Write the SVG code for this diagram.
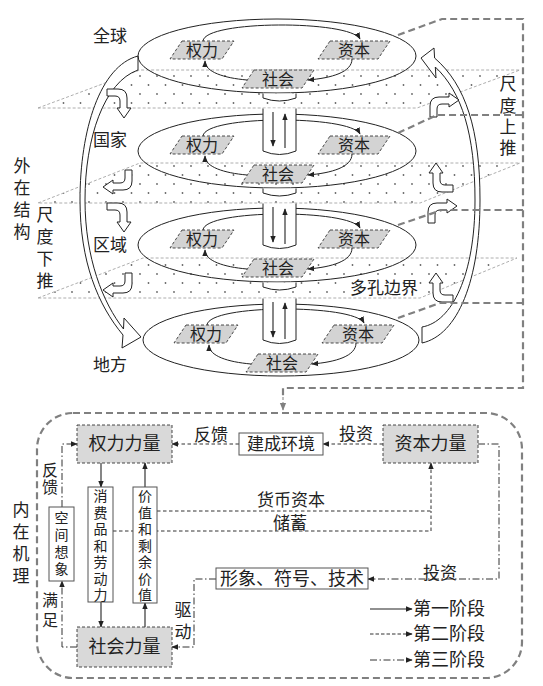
<svg xmlns="http://www.w3.org/2000/svg" width="543" height="686" viewBox="0 0 543 686">
<defs>
<style>
text{font-family:"Noto Sans CJK SC","Noto Sans",sans-serif;fill:#222}
.lbl{font-size:17px}
.lc{font-size:17px;text-anchor:middle}
.pl{font-size:16px;text-anchor:middle}
.nd{font-size:18px;text-anchor:middle}
.ns{font-size:18px}
.vv{writing-mode:vertical-rl;text-anchor:start}
.plane{fill:url(#dots);stroke:#999;stroke-width:0.8;stroke-dasharray:3,2}
.ell{fill:none;stroke:#222;stroke-width:1}
.para{fill:#d3d3d3;stroke:#222;stroke-width:0.8;stroke-dasharray:3,2}
.arc{fill:none;stroke:#222;stroke-width:1;marker-end:url(#ah)}
.tube{fill:#fff;stroke:#222;stroke-width:1}
.hollow{fill:#fff;stroke:#222;stroke-width:1}
.frame{fill:none;stroke:#808080;stroke-width:2.2;stroke-dasharray:7,4}
.gbox{fill:#d9d9d9;stroke:#333;stroke-width:0.9;stroke-dasharray:3,2}
.wbox{fill:#fff;stroke:#555;stroke-width:1}
.s1{fill:none;stroke:#222;stroke-width:1.1;marker-end:url(#ah)}
.s2{fill:none;stroke:#333;stroke-width:1;stroke-dasharray:3.5,2.5;marker-end:url(#ah)}
.s2n{fill:none;stroke:#333;stroke-width:1;stroke-dasharray:3.5,2.5}
.s3{fill:none;stroke:#333;stroke-width:1;stroke-dasharray:7,2.5,1.5,2.5;marker-end:url(#ah)}
</style>
<pattern id="dots" width="17" height="18" patternUnits="userSpaceOnUse">
<circle cx="4" cy="4" r="0.9" fill="#666"/>
<circle cx="12.5" cy="13" r="0.9" fill="#666"/>
</pattern>
<marker id="ah" viewBox="0 0 10 10" refX="9" refY="5" markerWidth="7" markerHeight="7" markerUnits="userSpaceOnUse" orient="auto"><path d="M0,1 L10,5 L0,9 Z" fill="#222"/></marker>
<marker id="ahg" viewBox="0 0 10 10" refX="9" refY="5" markerWidth="8" markerHeight="8" markerUnits="userSpaceOnUse" orient="auto"><path d="M0,1 L10,5 L0,9 Z" fill="#808080"/></marker>
<path id="bent" d="M0,0 H11 Q20,0 20,9 V19 H24 L17,29 L10,19 H13 V12 Q13,7 8,7 H0 Z"/>
</defs>

<rect width="543" height="686" fill="#fff"/>

<!-- planes -->
<g id="planes">
<path class="plane" d="M38,108 L140,70 H520 L417,108 Z"/>
<path class="plane" d="M38,203 L140,163 H520 L420,203 Z"/>
<path class="plane" d="M38,298 L143,258 H517 L420,298 Z"/>
</g>

<!-- big hollow arrows -->
<g id="big-arrows">
<path class="hollow" d="M138,56 C100,66 80,130 80,200 C80,262 98,305 123,335 L122,348 L141,337 L124,318 L123.5,329 C103,303 85,258 85,200 C85,138 104,82 138,70 Z"/>
<path class="hollow" d="M422,343 C458,335 480,280 480,200 C480,130 466,85 434.6,58 L434,48 L421,58 L436,78 L435.3,67 C462,92 475,135 475,200 C475,275 452,322 422,327 Z"/>
</g>

<!-- small bent arrows -->
<g id="bent-arrows" class="hollow">
<use href="#bent" transform="translate(107,89)"/>
<use href="#bent" transform="translate(132,170) rotate(90)"/>
<use href="#bent" transform="translate(107,203)"/>
<use href="#bent" transform="translate(132,273) rotate(90)"/>
<use href="#bent" transform="translate(430,117) rotate(-90)"/>
<use href="#bent" transform="translate(453,192) rotate(180)"/>
<use href="#bent" transform="translate(428,223) rotate(-90)"/>
<use href="#bent" transform="translate(453,302) rotate(180)"/>
</g>

<!-- levels -->
<g id="level-global">
<ellipse class="ell" cx="277" cy="56" rx="139" ry="37"/>
<path class="arc" d="M203,41 C205,20 350,20 360,39"/>
<path class="arc" d="M352,59 C352,72 332,78 308,80"/>
<path class="arc" d="M247,80 C224,78 205,72 205,61"/>
<g id="g-power"><polygon class="para" points="182,41 234,41 222,59 170,59"/><text class="pl" x="202" y="56">权力</text></g>
<g id="g-capital"><polygon class="para" points="330,41 390,41 378,59 318,59"/><text class="pl" x="354" y="56">资本</text></g>
<g id="g-society"><polygon class="para" points="254,70 314,70 302,88 242,88"/><text class="pl" x="278" y="85">社会</text></g>
</g>

<g id="level-nation" transform="translate(0,95)">
<ellipse class="ell" cx="277" cy="56" rx="139" ry="37"/>
<path class="arc" d="M203,41 C205,20 350,20 360,39"/>
<path class="arc" d="M352,59 C352,72 332,78 308,80"/>
<path class="arc" d="M247,80 C224,78 205,72 205,61"/>
<g id="n-power"><polygon class="para" points="182,41 234,41 222,59 170,59"/><text class="pl" x="202" y="56">权力</text></g>
<g id="n-capital"><polygon class="para" points="330,41 390,41 378,59 318,59"/><text class="pl" x="354" y="56">资本</text></g>
<g id="n-society"><polygon class="para" points="254,70 314,70 302,88 242,88"/><text class="pl" x="278" y="85">社会</text></g>
</g>

<g id="level-region" transform="translate(0,189)">
<ellipse class="ell" cx="277" cy="56" rx="139" ry="37"/>
<path class="arc" d="M203,41 C205,20 350,20 360,39"/>
<path class="arc" d="M352,59 C352,72 332,78 308,80"/>
<path class="arc" d="M247,80 C224,78 205,72 205,61"/>
<g id="r-power"><polygon class="para" points="182,41 234,41 222,59 170,59"/><text class="pl" x="202" y="56">权力</text></g>
<g id="r-capital"><polygon class="para" points="330,41 390,41 378,59 318,59"/><text class="pl" x="354" y="56">资本</text></g>
<g id="r-society"><polygon class="para" points="254,70 314,70 302,88 242,88"/><text class="pl" x="278" y="85">社会</text></g>
</g>

<g id="level-local" transform="translate(4,284)">
<ellipse class="ell" cx="277" cy="56" rx="138" ry="36"/>
<path class="arc" d="M203,41 C205,20 350,20 360,39"/>
<path class="arc" d="M352,59 C352,72 332,78 308,80"/>
<path class="arc" d="M247,80 C224,78 205,72 205,61"/>
<g id="l-power"><polygon class="para" points="182,41 234,41 222,59 170,59"/><text class="pl" x="202" y="56">权力</text></g>
<g id="l-capital"><polygon class="para" points="330,41 390,41 378,59 318,59"/><text class="pl" x="354" y="56">资本</text></g>
<g id="l-society"><polygon class="para" points="254,70 314,70 302,88 242,88"/><text class="pl" x="278" y="85">社会</text></g>
</g>

<!-- tubes -->
<g id="tubes">
<path class="tube" d="M263,93.5 V98 Q279.5,104 296,98 V93.5"/>
<path class="tube" d="M263,108.5 V151 Q279.5,158 296,151 V108.5"/>
<path class="tube" d="M263,188.5 V193 Q279.5,199 296,193 V188.5"/>
<path class="tube" d="M263,203.5 V245 Q279.5,252 296,245 V203.5"/>
<path class="tube" d="M263,282.5 V287 Q279.5,293 296,287 V282.5"/>
<path class="tube" d="M263,298.5 V340 Q279.5,347 296,340 V298.5"/>
<path class="s1" d="M273,112 V146"/>
<path class="s1" d="M285,148 V114"/>
<path class="s1" d="M273,207 V242"/>
<path class="s1" d="M285,244 V209"/>
<path class="s1" d="M273,302 V337"/>
<path class="s1" d="M285,339 V303"/>
</g>

<!-- dashed frame -->
<g id="frame-lines">
<path class="frame" d="M398,35 L442,19 H523 V388 H283 V396"/>
<path fill="none" stroke="#808080" stroke-width="1" stroke-dasharray="3,2" marker-end="url(#ahg)" d="M283,397 V410"/>
<path class="frame" d="M398,133 L437,115 H523"/>
<path class="frame" d="M398,225 L442,210 H523"/>
<path class="frame" d="M398,318 L440,303 H523"/>
</g>

<!-- top labels -->
<g id="top-labels">
<text class="lbl" x="93" y="41.5">全球</text>
<text class="lbl" x="93" y="146">国家</text>
<text class="lbl" x="93" y="251">区域</text>
<text class="lbl" x="93" y="371">地方</text>
<text class="lbl" x="350" y="294" font-size="18">多孔边界</text>
<text class="lbl vv" x="22" y="157.5" style="letter-spacing:5px">外在结构</text>
<text class="lbl vv" x="45" y="206.5" style="letter-spacing:5px">尺度下推</text>
<text class="lbl vv" x="508" y="75.5" style="letter-spacing:4.3px">尺度上推</text>
</g>

<!-- bottom section frame -->
<rect class="frame" x="37" y="413" width="485" height="265" rx="36" ry="36"/>

<!-- connectors -->
<g id="connectors">
<path class="s1" d="M101,463 V487"/>
<path class="s1" d="M145,487 V463"/>
<path class="s1" d="M101,602 V627"/>
<path class="s1" d="M145,627 V603"/>
<path class="s2" d="M239,444 H172"/>
<path class="s2" d="M383,444 H323"/>
<path class="s2" d="M157,511 H431 V463"/>
<path class="s2n" d="M113,531 H431 V511"/>
<path class="s3" d="M478,444 H499 V579 H368"/>
<path class="s3" d="M216,579 H194 V647 H172"/>
<path class="s3" d="M77,647 H62 V581"/>
<path class="s3" d="M62,507 V444 H77"/>
<path fill="none" stroke="#222" stroke-width="1.1" marker-end="url(#ah)" d="M370,609 H412"/>
<path fill="none" stroke="#333" stroke-width="1" stroke-dasharray="3.5,2" marker-end="url(#ah)" d="M370,634 H412"/>
<path fill="none" stroke="#333" stroke-width="1" stroke-dasharray="7,2.5,1.5,2.5" marker-end="url(#ah)" d="M370,660 H412"/>
</g>

<!-- nodes -->
<g id="node-power"><rect class="gbox" x="77" y="425" width="95" height="38"/><text class="nd" x="124.5" y="450">权力力量</text></g>
<g id="node-capital"><rect class="gbox" x="383" y="425" width="95" height="38"/><text class="nd" x="430.5" y="450">资本力量</text></g>
<g id="node-society"><rect class="gbox" x="77" y="627" width="95" height="40"/><text class="nd" x="124.5" y="653">社会力量</text></g>
<g id="node-built"><rect class="wbox" x="239" y="433" width="84" height="22"/><text class="lc" x="281" y="450">建成环境</text></g>
<g id="node-image"><rect class="wbox" x="216" y="568" width="152" height="21"/><text class="nd" x="292" y="585">形象、符号、技术</text></g>
<g id="node-space"><rect class="wbox" x="49" y="507" width="25" height="74"/>
<text class="vv" x="61.5" y="511" font-size="14" style="letter-spacing:3px">空间想象</text></g>
<g id="node-consume"><rect class="wbox" x="88" y="487" width="25" height="115"/>
<text class="vv" x="100.5" y="489" font-size="14" style="letter-spacing:2.5px">消费品和劳动力</text></g>
<g id="node-value"><rect class="wbox" x="133" y="487" width="24" height="116"/>
<text class="vv" x="145" y="489" font-size="14" style="letter-spacing:2.5px">价值和剩余价值</text></g>

<!-- bottom labels -->
<g id="bottom-labels">
<text class="lc" x="211" y="441">反馈</text>
<text class="lc" x="356" y="440">投资</text>
<text class="lc" x="291" y="506" font-size="17.5">货币资本</text>
<text class="lc" x="290" y="529">储蓄</text>
<text class="lc" x="440" y="579">投资</text>
<text class="vv" x="50" y="462" font-size="16" style="letter-spacing:1px">反馈</text>
<text class="vv" x="50" y="592" font-size="16" style="letter-spacing:4px">满足</text>
<text class="lbl vv" x="183" y="601.5" style="letter-spacing:5px">驱动</text>
<text class="lbl vv" x="21" y="501.5" style="letter-spacing:4.7px">内在机理</text>
<text class="ns" x="413" y="615">第一阶段</text>
<text class="ns" x="413" y="640">第二阶段</text>
<text class="ns" x="413" y="666">第三阶段</text>
</g>
</svg>
